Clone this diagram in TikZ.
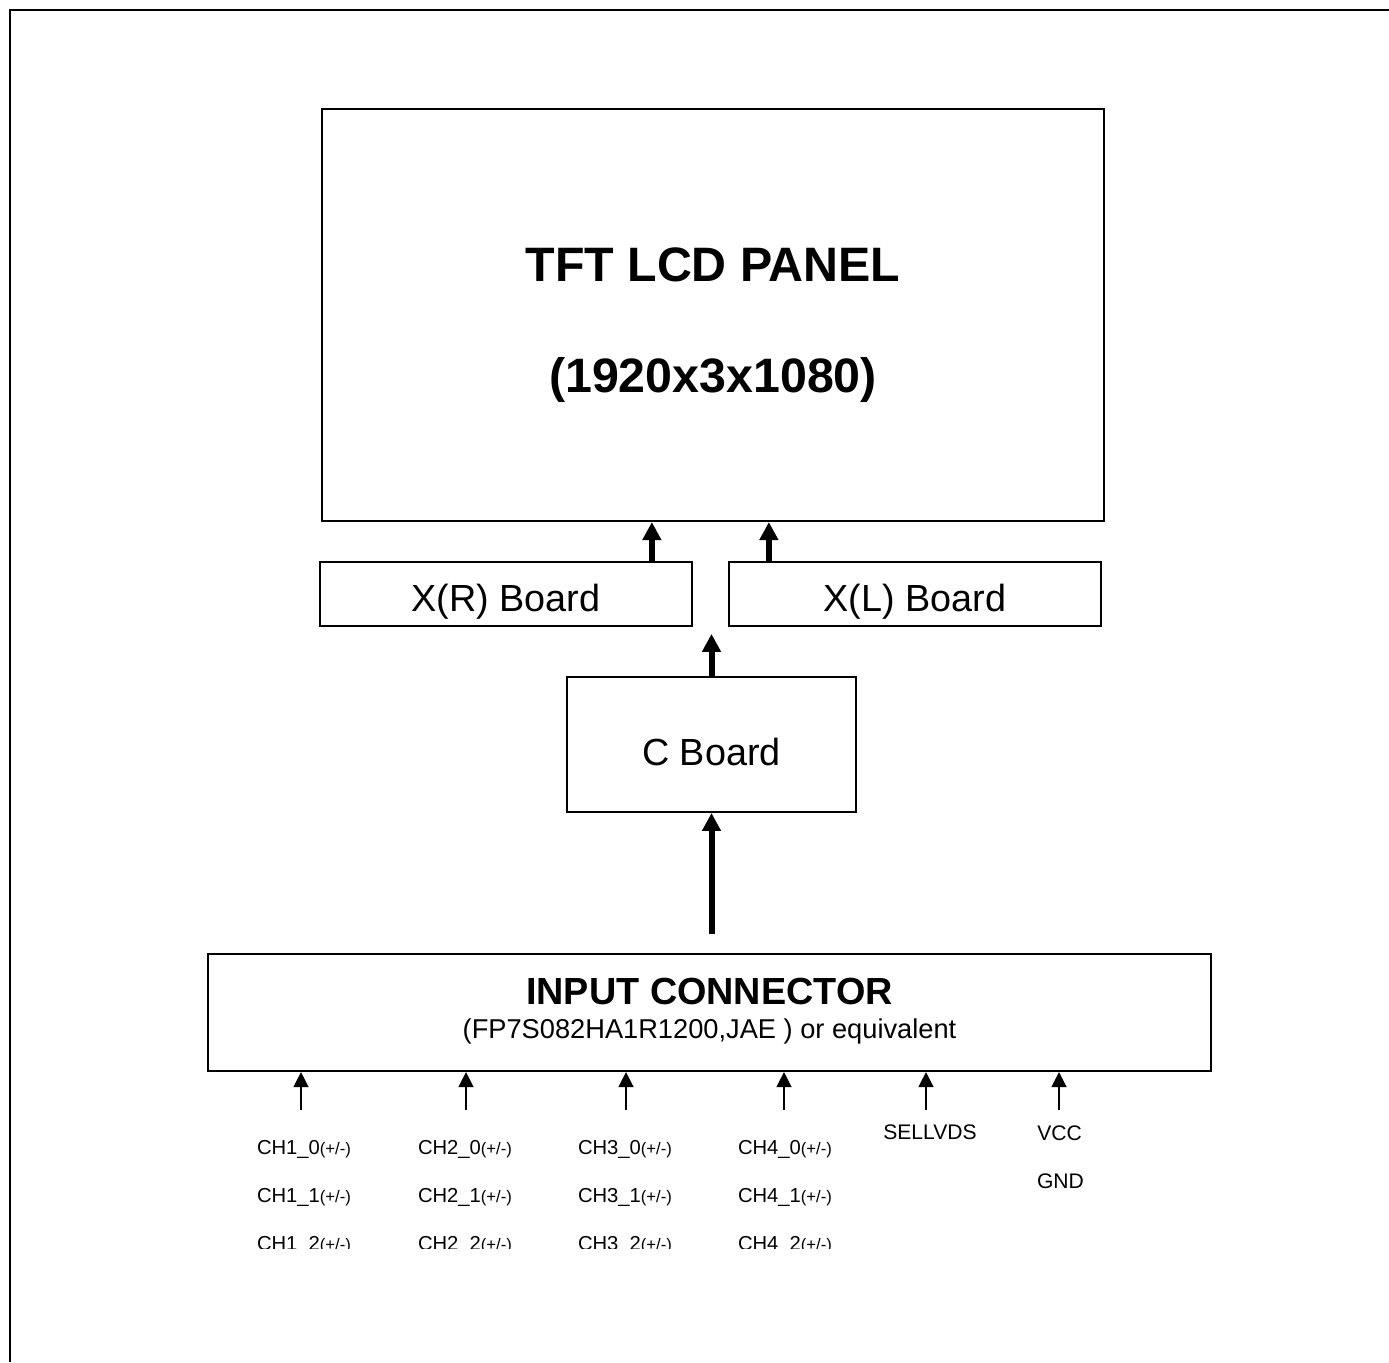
\documentclass[tikz,border=0pt]{standalone}
\usepackage{fontspec}
\setmainfont{Liberation Sans}
\usetikzlibrary{arrows.meta,positioning}
\tikzstyle{frame-line} = [draw=black, line width=1.3pt]
\tikzstyle{unit-box} = [draw=black, line width=1.2pt, rectangle, inner sep=0pt]
\tikzstyle{board-box} = [draw=black, line width=1pt, rectangle, inner sep=0pt]
\tikzstyle{panel-title} = [inner sep=0pt, anchor=base, font=\bfseries\fontsize{27.5}{33}\selectfont]
\tikzstyle{board-label} = [inner sep=0pt, anchor=base, font=\fontsize{21.5}{26}\selectfont]
\tikzstyle{conn-title} = [inner sep=0pt, anchor=base, font=\bfseries\fontsize{21.5}{26}\selectfont]
\tikzstyle{conn-note} = [inner sep=0pt, anchor=base, font=\fontsize{15.5}{19}\selectfont]
\tikzstyle{pin-label} = [inner sep=0pt, anchor=base, font=\fontsize{12}{14}\selectfont]
\tikzstyle{ch-label} = [inner sep=0pt, anchor=base, font=\fontsize{11.5}{14}\selectfont]
\tikzstyle{bus-arrow} = [line width=3.4pt, -{Triangle[width=0.36cm, length=0.36cm]}]
\tikzstyle{pin-arrow} = [line width=0.75pt, -{Triangle[width=0.30cm, length=0.30cm]}]
\newcommand{\pmsig}{{\fontsize{9.5}{11}\selectfont(+/-)}}

\begin{document}
\begin{tikzpicture}
\useasboundingbox (0,0) rectangle (27.78,-27.24);
\draw[frame-line] (27.78,-0.2) -- (0.2,-0.2) -- (0.2,-27.24);

% panel
\node[unit-box, minimum width=15.64cm, minimum height=8.24cm] (panel) at (14.26,-6.30) {};
\node[panel-title] (panelName) at ([yshift=0.68cm]panel.center) {TFT LCD PANEL};
\node[panel-title] (panelRes) at ([yshift=-1.54cm]panel.center) {(1920x3x1080)};

% source boards
\node[board-box, minimum width=7.44cm, minimum height=1.28cm] (xr) at (10.12,-11.88) {};
\node[board-box, minimum width=7.44cm, minimum height=1.28cm, right=0.70cm of xr] (xl) {};
\node[board-label] (xrName) at ([yshift=-0.34cm]xr.center) {X(R) Board};
\node[board-label] (xlName) at ([yshift=-0.34cm]xl.center) {X(L) Board};
\node[board-box, line width=1.1pt, minimum width=5.78cm, minimum height=2.70cm] (cboard) at (14.23,-14.89) {};
\node[board-label] (cName) at ([yshift=-0.41cm]cboard.center) {C Board};

% connector
\node[unit-box, minimum width=20.06cm, minimum height=2.34cm] (input) at (14.19,-20.25) {};
\node[conn-title] (inTitle) at ([yshift=0.17cm]input.center) {INPUT CONNECTOR};
\node[conn-note] (inNote) at ([yshift=-0.51cm]input.center) {(FP7S082HA1R1200,JAE ) or equivalent};

% bus arrows
\coordinate (tapR) at ([xshift=-0.82cm]xr.north east);
\coordinate (tapL) at ([xshift=0.82cm]xl.north west);
\draw[bus-arrow] (tapR) -- (tapR |- panel.south);
\draw[bus-arrow] (tapL) -- (tapL |- panel.south);
\coordinate (splitTop) at (cboard.north |- xr.south);
\draw[bus-arrow] (cboard.north) -- ([yshift=-0.14cm]splitTop);
\coordinate (feedIn) at (cboard.south |- input.north);
\draw[bus-arrow] ([yshift=0.38cm]feedIn) -- (cboard.south);

% input pins
\coordinate (pin1) at (6.02,-22.20);
\coordinate (pin2) at (9.32,-22.20);
\coordinate (pin3) at (12.52,-22.20);
\coordinate (pin4) at (15.68,-22.20);
\coordinate (pin5) at (18.52,-22.20);
\coordinate (pin6) at (21.18,-22.20);
\draw[pin-arrow] (pin1) -- (pin1 |- input.south);
\draw[pin-arrow] (pin2) -- (pin2 |- input.south);
\draw[pin-arrow] (pin3) -- (pin3 |- input.south);
\draw[pin-arrow] (pin4) -- (pin4 |- input.south);
\draw[pin-arrow] (pin5) -- (pin5 |- input.south);
\draw[pin-arrow] (pin6) -- (pin6 |- input.south);

\begin{scope}
\clip (0,0) rectangle (27.78,-24.97);
\node[ch-label] (ch10) at (6.08,-23.09) {CH1\_0\pmsig};
\node[ch-label] (ch11) at (6.08,-24.05) {CH1\_1\pmsig};
\node[ch-label] (ch12) at (6.08,-25.01) {CH1\_2\pmsig};
\node[ch-label] (ch20) at (9.30,-23.09) {CH2\_0\pmsig};
\node[ch-label] (ch21) at (9.30,-24.05) {CH2\_1\pmsig};
\node[ch-label] (ch22) at (9.30,-25.01) {CH2\_2\pmsig};
\node[ch-label] (ch30) at (12.50,-23.09) {CH3\_0\pmsig};
\node[ch-label] (ch31) at (12.50,-24.05) {CH3\_1\pmsig};
\node[ch-label] (ch32) at (12.50,-25.01) {CH3\_2\pmsig};
\node[ch-label] (ch40) at (15.70,-23.09) {CH4\_0\pmsig};
\node[ch-label] (ch41) at (15.70,-24.05) {CH4\_1\pmsig};
\node[ch-label] (ch42) at (15.70,-25.01) {CH4\_2\pmsig};
\end{scope}
\node[pin-label] (sellvds) at (18.60,-22.79) {SELLVDS};
\node[pin-label] (vcc) at (21.19,-22.81) {VCC};
\node[pin-label] (gnd) at (21.21,-23.77) {GND};
\end{tikzpicture}
\end{document}
